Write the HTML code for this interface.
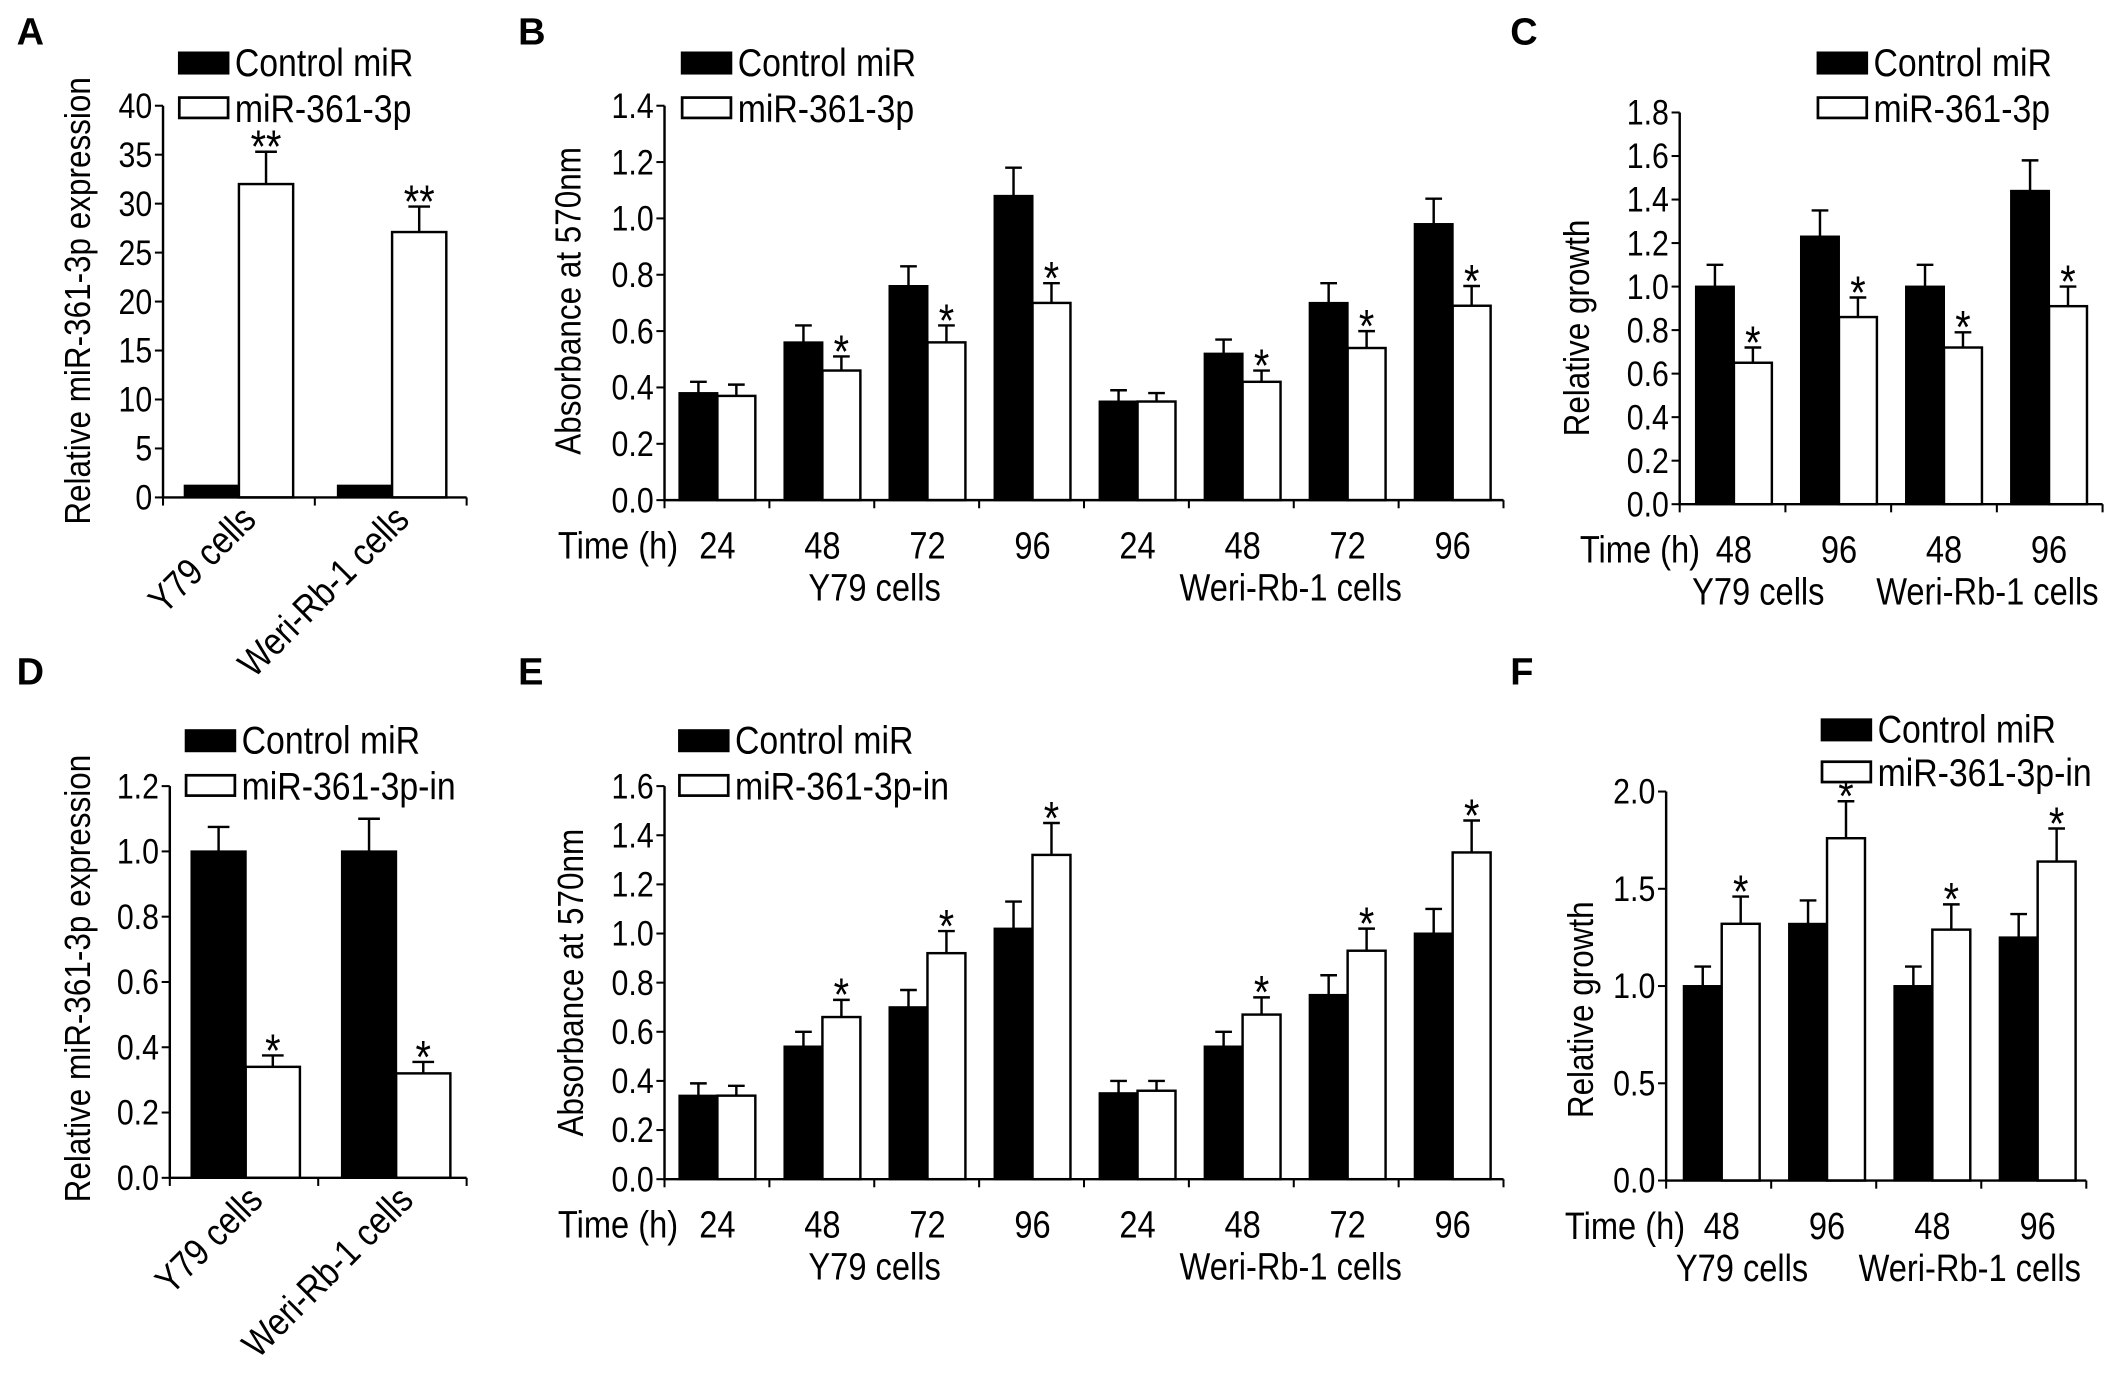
<!DOCTYPE html>
<html><head><meta charset="utf-8"><style>
html,body{margin:0;padding:0;background:#fff;}
svg{display:block;font-family:"Liberation Sans",Arial,sans-serif;}
</style></head><body>
<svg id="fig" width="2126" height="1373" viewBox="0 0 1568 1013" xmlns="http://www.w3.org/2000/svg"></svg>
<script>
// ---- data ----
const aCats = ["Y79 cells","Weri-Rb-1 cells"];
const aCtrl = [1.2, 1.2];
const aCtrlErr = [1.2, 1.2];
const aMiR = [32, 27.1];
const aMiRErr = [35.3, 29.7];
const aStars = ["**","**"];
const aTicks = ["0","5","10","15","20","25","30","35","40"];

const bTimes = ["24","48","72","96","24","48","72","96"];
const bCtrl = [0.38,0.56,0.76,1.08,0.35,0.52,0.70,0.98];
const bCtrlErr = [0.42,0.62,0.83,1.18,0.39,0.57,0.77,1.07];
const bMiR = [0.37,0.46,0.56,0.70,0.35,0.42,0.54,0.69];
const bMiRErr = [0.41,0.51,0.62,0.77,0.38,0.46,0.60,0.76];
const bStars = ["","*","*","*","","*","*","*"];
const bTicks = ["0.0","0.2","0.4","0.6","0.8","1.0","1.2","1.4"];

const cTimes = ["48","96","48","96"];
const cCtrl = [1.0,1.23,1.0,1.44];
const cCtrlErr = [1.10,1.35,1.10,1.58];
const cMiR = [0.65,0.86,0.72,0.91];
const cMiRErr = [0.72,0.95,0.79,1.00];
const cStars = ["*","*","*","*"];
const cTicks = ["0.0","0.2","0.4","0.6","0.8","1.0","1.2","1.4","1.6","1.8"];

const dCats = ["Y79 cells","Weri-Rb-1 cells"];
const dCtrl = [1.0,1.0];
const dCtrlErr = [1.075,1.10];
const dMiR = [0.34,0.32];
const dMiRErr = [0.375,0.355];
const dStars = ["*","*"];
const dTicks = ["0.0","0.2","0.4","0.6","0.8","1.0","1.2"];

const eTimes = ["24","48","72","96","24","48","72","96"];
const eCtrl = [0.34,0.54,0.70,1.02,0.35,0.54,0.75,1.00];
const eCtrlErr = [0.39,0.60,0.77,1.13,0.40,0.60,0.83,1.10];
const eMiR = [0.34,0.66,0.92,1.32,0.36,0.67,0.93,1.33];
const eMiRErr = [0.38,0.73,1.01,1.45,0.40,0.74,1.02,1.46];
const eStars = ["","*","*","*","","*","*","*"];
const eTicks = ["0.0","0.2","0.4","0.6","0.8","1.0","1.2","1.4","1.6"];

const fTimes = ["48","96","48","96"];
const fCtrl = [1.0,1.32,1.0,1.25];
const fCtrlErr = [1.10,1.44,1.10,1.37];
const fMiR = [1.32,1.76,1.29,1.64];
const fMiRErr = [1.46,1.95,1.42,1.81];
const fStars = ["*","*","*","*"];
const fTicks = ["0.0","0.5","1.0","1.5","2.0"];

// ---- drawing ----
const NS="http://www.w3.org/2000/svg";
const svg=document.getElementById('fig');
const SX=0.86;
function mk(tag,attrs,parent,text){
  const e=document.createElementNS(NS,tag);
  for(const k in attrs) e.setAttribute(k,attrs[k]);
  if(text!==undefined) e.textContent=text;
  (parent||svg).appendChild(e);
  return e;
}
function txt(parent,x,y,str,size,anchor,rot){
  const tr=`translate(${x},${y})`+(rot?` rotate(${rot})`:'')+` scale(${SX},1)`;
  return mk('text',{x:0,y:0,'font-size':size,'text-anchor':anchor||'start',transform:tr},parent,str);
}

function panel(p){
  const g=mk('g',{});
  
  
  const ymax=parseFloat(p.ticks[p.ticks.length-1]);
  const ys=v=>p.y0-(v/ymax)*(p.y0-p.yTop);
  const L=mk('text',{x:p.lx,y:p.ly,'font-size':28,'font-weight':'bold'},g,p.letter);
  
  
  const n=p.ctrl.length;
  for(let i=0;i<n;i++){
    const c=p.gx0+p.gstep*i;
    const bw=p.bw;
    const r1=mk('rect',{x:c-bw,y:ys(p.ctrl[i]),width:bw,height:p.y0-ys(p.ctrl[i]),fill:'#000',stroke:'#000','stroke-width':1.5},g);
    
    
    const r2=mk('rect',{x:c,y:ys(p.mir[i]),width:bw,height:p.y0-ys(p.mir[i]),fill:'#fff',stroke:'#000','stroke-width':1.8},g);
    
    
    [[c-bw/2,p.ctrl[i],p.ctrlErr[i]],[c+bw/2,p.mir[i],p.mirErr[i]]].forEach(([x,v,e])=>{
      if(e>v){
        const hw=Math.min(bw*0.22,8);
        const eb=mk('path',{d:`M${x} ${ys(v)}V${ys(e)}M${x-hw} ${ys(e)}H${x+hw}`,stroke:'#000','stroke-width':1.8,fill:'none'},g);
        
        
      }
    });
    if(p.stars[i]){
      const s=txt(g,c+bw/2,ys(p.mirErr[i])+8,p.stars[i],34,'middle');
      
      
    }
  }
  const ax=mk('path',{d:`M${p.ax} ${p.yTop}V${p.y0}H${p.xEnd}`,stroke:'#000','stroke-width':1.8,fill:'none'},g);
  
  
  p.ticks.forEach(t=>{
    const y=ys(parseFloat(t));
    mk('line',{x1:p.ax-6,x2:p.ax,y1:y,y2:y,stroke:'#000','stroke-width':1.5},g);
    const tl=txt(g,p.ax-8,y+9,t,26,'end');
    
    
  });
  for(let k=0;k<=p.sepN;k++){
    const x=p.ax+(p.xEnd-p.ax)*k/p.sepN;
    mk('line',{x1:x,x2:x,y1:p.y0,y2:p.y0+6,stroke:'#000','stroke-width':1.5},g);
  }
  const yt=txt(g,p.ytx,p.yty,p.ytitle,27,'middle',-90);
  
  
  if(p.cats){
    p.cats.forEach((cname,i)=>{
      const c=p.gx0+p.gstep*i+14;
      const xl=txt(g,c,p.y0+18,cname,28,'end',-45);
      
      
    });
  } else {
    const th=txt(g,p.timeX,p.y0+43,'Time (h)',28,'end');
    
    
    p.times.forEach((t,i)=>{
      const tl=txt(g,p.gx0+p.gstep*i,p.y0+43,t,28,'middle');
      
      
    });
    p.groups.forEach(([lab,x])=>{
      const gl=txt(g,x,p.y0+74,lab,28,'middle');
      
      
    });
  }
  const lg=mk('g',{},g);
  
  
  const r=mk('rect',{x:p.legX,y:p.legY,width:38,height:17,fill:'#000'},lg);
  
  
  const t1=txt(lg,p.legX+42,p.legY+18,'Control miR',29);
  
  
  const r2=mk('rect',{x:p.legX+1,y:p.legY+p.legGap,width:36,height:15,fill:'#fff',stroke:'#000','stroke-width':2},lg);
  
  
  const t2=txt(lg,p.legX+42,p.legY+p.legGap+18,p.treat,29);
  
  
}

panel({name:'panel-a',letter:'A',lx:12,ly:33,ticks:aTicks,ctrl:aCtrl,ctrlErr:aCtrlErr,mir:aMiR,mirErr:aMiRErr,stars:aStars,
  ax:120,yTop:78,y0:367,xEnd:344,sepN:2,gx0:176,gstep:113,bw:40,cats:aCats,
  ytitle:'Relative miR-361-3p expression',ytx:66,yty:222,legX:131,legY:38,legGap:34,treat:'miR-361-3p'});
panel({name:'panel-b',letter:'B',lx:382,ly:33,ticks:bTicks,ctrl:bCtrl,ctrlErr:bCtrlErr,mir:bMiR,mirErr:bMiRErr,stars:bStars,
  ax:490,yTop:78,y0:369,xEnd:1109,sepN:8,gx0:529,gstep:77.5,bw:28,times:bTimes,timeX:500,
  groups:[['Y79 cells',645],['Weri-Rb-1 cells',952]],
  ytitle:'Absorbance at 570nm',ytx:428,yty:222,legX:502,legY:38,legGap:34,treat:'miR-361-3p'});
panel({name:'panel-c',letter:'C',lx:1114,ly:33,ticks:cTicks,ctrl:cCtrl,ctrlErr:cCtrlErr,mir:cMiR,mirErr:cMiRErr,stars:cStars,
  ax:1239,yTop:83,y0:372,xEnd:1551,sepN:4,gx0:1279,gstep:77.5,bw:28,times:cTimes,timeX:1254,
  groups:[['Y79 cells',1297],['Weri-Rb-1 cells',1466]],
  ytitle:'Relative growth',ytx:1172,yty:242,legX:1340,legY:38,legGap:34,treat:'miR-361-3p'});
panel({name:'panel-d',letter:'D',lx:12,ly:505,ticks:dTicks,ctrl:dCtrl,ctrlErr:dCtrlErr,mir:dMiR,mirErr:dMiRErr,stars:dStars,
  ax:125,yTop:580,y0:869,xEnd:344,sepN:2,gx0:181,gstep:111,bw:40,cats:dCats,
  ytitle:'Relative miR-361-3p expression',ytx:66,yty:722,legX:136,legY:538,legGap:34,treat:'miR-361-3p-in'});
panel({name:'panel-e',letter:'E',lx:382,ly:505,ticks:eTicks,ctrl:eCtrl,ctrlErr:eCtrlErr,mir:eMiR,mirErr:eMiRErr,stars:eStars,
  ax:490,yTop:580,y0:870,xEnd:1109,sepN:8,gx0:529,gstep:77.5,bw:28,times:eTimes,timeX:500,
  groups:[['Y79 cells',645],['Weri-Rb-1 cells',952]],
  ytitle:'Absorbance at 570nm',ytx:430,yty:725,legX:500,legY:538,legGap:34,treat:'miR-361-3p-in'});
panel({name:'panel-f',letter:'F',lx:1114,ly:505,ticks:fTicks,ctrl:fCtrl,ctrlErr:fCtrlErr,mir:fMiR,mirErr:fMiRErr,stars:fStars,
  ax:1229,yTop:584,y0:871,xEnd:1539,sepN:4,gx0:1270,gstep:77.7,bw:28,times:fTimes,timeX:1243,
  groups:[['Y79 cells',1285],['Weri-Rb-1 cells',1453]],
  ytitle:'Relative growth',ytx:1175,yty:745,legX:1343,legY:530,legGap:32,treat:'miR-361-3p-in'});
</script>
</body></html>
